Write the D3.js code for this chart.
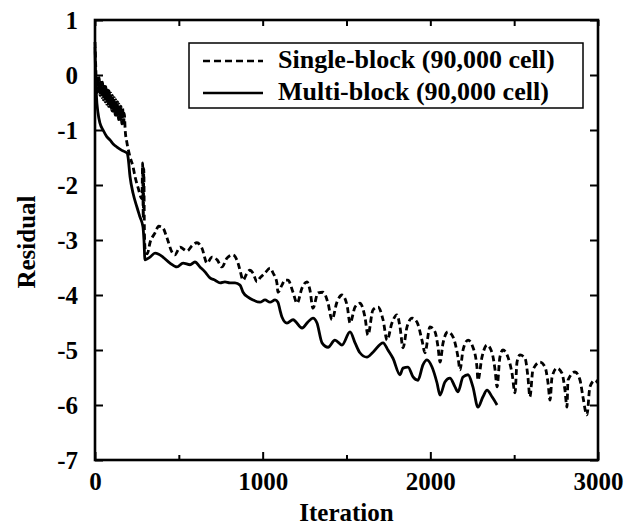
<!DOCTYPE html>
<html><head><meta charset="utf-8">
<script src="https://cdn.jsdelivr.net/npm/d3@7/dist/d3.min.js"></script>
<style>body{margin:0;background:#fff}svg{display:block}</style>
</head><body><svg id="c" width="626" height="527"></svg>
<script>
const xTicks=[0,1000,2000,3000];
const xMinorTicks=[500,1500,2500];
const yTicks=[1,0,-1,-2,-3,-4,-5,-6,-7];
const seriesNames=["Single-block (90,000 cell)","Multi-block (90,000 cell)"];
const xLabel="Iteration", yLabel="Residual";

const singleIter=[0,5,10,15,20,25,30,35,40,45,50,55,60,65,70,75,80,85,90,95,100,105,110,115,120,125,130,135,140,145,150,155,160,165,170,175,180,191,209,227,239,256,280,284,288,291,295,300,312,328,358,380,405,429,459,477,507,549,580,608,638,668,698,728,757,787,823,853,865,883,907,924,942,966,984,1014,1044,1062,1085,1091,1115,1133,1151,1181,1205,1235,1264,1282,1300,1330,1360,1390,1413,1443,1473,1503,1521,1551,1580,1610,1628,1658,1688,1718,1742,1771,1801,1819,1837,1861,1891,1920,1950,1968,1998,2028,2046,2058,2076,2105,2135,2165,2177,2195,2225,2254,2278,2284,2308,2338,2368,2386,2398,2415,2433,2463,2487,2505,2517,2535,2565,2582,2594,2612,2654,2684,2702,2714,2726,2755,2785,2803,2815,2821,2863,2893,2910,2934,2952,2982,3000];
const singleRes=[0.6,0.1,-0.29,-0.01,-0.33,-0.05,-0.37,-0.09,-0.41,-0.13,-0.45,-0.17,-0.49,-0.21,-0.53,-0.25,-0.57,-0.29,-0.61,-0.33,-0.65,-0.37,-0.69,-0.41,-0.73,-0.45,-0.77,-0.49,-0.81,-0.53,-0.85,-0.57,-0.89,-0.61,-0.93,-0.7,-1.0,-1.24,-1.49,-1.67,-1.85,-2.04,-2.25,-1.6,-2.6,-1.7,-2.9,-3.2,-3.25,-3.05,-2.87,-2.75,-2.78,-2.96,-3.22,-3.27,-3.13,-3.2,-3.1,-3.05,-3.15,-3.42,-3.31,-3.36,-3.49,-3.33,-3.27,-3.42,-3.55,-3.73,-3.6,-3.55,-3.6,-3.76,-3.69,-3.6,-3.51,-3.6,-3.78,-3.95,-3.82,-3.73,-3.73,-3.95,-4.15,-3.87,-3.76,-3.91,-4.24,-3.96,-3.95,-4.15,-4.45,-4.13,-4.0,-4.18,-4.51,-4.22,-4.15,-4.4,-4.73,-4.27,-4.22,-4.45,-4.82,-4.51,-4.36,-4.58,-4.96,-4.58,-4.42,-4.49,-4.82,-5.05,-4.58,-4.67,-4.95,-5.22,-4.87,-4.67,-4.76,-5.13,-5.36,-5.0,-4.82,-4.95,-5.31,-5.55,-5.13,-4.91,-5.05,-5.36,-5.67,-5.13,-5.0,-5.13,-5.42,-5.78,-5.22,-5.09,-5.15,-5.49,-5.85,-5.36,-5.22,-5.31,-5.6,-5.91,-5.49,-5.33,-5.42,-5.73,-6.04,-5.55,-5.4,-5.55,-5.85,-6.18,-5.67,-5.55,-5.6];

const multiIter=[0,3,8,18,30,48,70,89,110,131,160,191,197,209,227,250,268,286,292,298,312,328,358,380,405,447,489,525,567,596,626,656,686,716,746,775,805,835,865,883,913,942,984,1014,1044,1074,1091,1103,1115,1145,1181,1235,1270,1300,1324,1354,1390,1431,1473,1521,1551,1580,1622,1658,1718,1747,1777,1819,1837,1867,1897,1926,1956,1980,2010,2040,2058,2087,2117,2147,2165,2195,2225,2254,2284,2314,2338,2368,2398];
const multiRes=[0.5,0.1,-0.35,-0.69,-0.88,-1.0,-1.12,-1.18,-1.26,-1.31,-1.37,-1.42,-1.49,-1.85,-2.15,-2.4,-2.58,-2.76,-3.0,-3.36,-3.34,-3.31,-3.24,-3.26,-3.31,-3.42,-3.49,-3.42,-3.45,-3.4,-3.49,-3.58,-3.69,-3.73,-3.78,-3.76,-3.78,-3.78,-3.82,-3.95,-4.04,-4.09,-4.13,-4.09,-4.13,-4.09,-4.13,-4.27,-4.4,-4.51,-4.45,-4.6,-4.49,-4.42,-4.51,-4.87,-4.95,-4.82,-4.91,-4.67,-4.87,-5.05,-5.13,-5.04,-4.87,-5.0,-5.15,-5.45,-5.33,-5.31,-5.49,-5.55,-5.27,-5.18,-5.31,-5.6,-5.82,-5.58,-5.51,-5.67,-5.76,-5.49,-5.45,-5.67,-6.04,-5.85,-5.73,-5.85,-6.0];

const svg=d3.select("#c");
const L=95,R=598,T=20,B=460;
const x=d3.scaleLinear().domain([0,3000]).range([L,R]);
const y=d3.scaleLinear().domain([-7,1]).range([B,T]);
const font="'Liberation Serif','Times New Roman',serif";
const fmt=d=>String(d);

// data lines
const line=d3.line().x(d=>x(d[0])).y(d=>y(d[1])).curve(d3.curveMonotoneX);
const single=singleIter.map((v,i)=>[v,singleRes[i]]);
const multi=multiIter.map((v,i)=>[v,multiRes[i]]);
const plot=svg.append("g");
plot.append("path").datum(single).attr("d",line).attr("fill","none")
  .attr("stroke","#000").attr("stroke-width",2.8).attr("stroke-dasharray","6,3.5");
plot.append("path").datum(multi).attr("d",line).attr("fill","none")
  .attr("stroke","#000").attr("stroke-width",2.8);

// axes
function styleAxis(g){
  g.select(".domain").remove();
  g.selectAll("line").attr("stroke","#000").attr("stroke-width",2);
  g.selectAll("text").attr("font-family",font).attr("font-weight","bold")
    .attr("font-size",25).attr("fill","#000");
}
svg.append("g").attr("transform",`translate(0,${B})`)
  .call(d3.axisBottom(x).tickValues(xTicks).tickFormat(fmt).tickSize(-8).tickPadding(12))
  .call(styleAxis);
svg.append("g").attr("transform",`translate(0,${B})`)
  .call(d3.axisBottom(x).tickValues(xMinorTicks).tickFormat("").tickSize(-5))
  .call(styleAxis);
svg.append("g").attr("transform",`translate(0,${T})`)
  .call(d3.axisTop(x).tickValues(xTicks.concat(xMinorTicks)).tickFormat("").tickSize(-6))
  .call(styleAxis);
svg.append("g").attr("transform",`translate(${L},0)`)
  .call(d3.axisLeft(y).tickValues(yTicks).tickFormat(fmt).tickSize(-8).tickPadding(17))
  .call(styleAxis);
svg.append("g").attr("transform",`translate(${R},0)`)
  .call(d3.axisRight(y).tickValues(yTicks).tickFormat("").tickSize(-8))
  .call(styleAxis);
svg.append("rect").attr("x",L).attr("y",T).attr("width",R-L).attr("height",B-T)
  .attr("fill","none").attr("stroke","#000").attr("stroke-width",2.6);

// axis labels
svg.append("text").attr("x",(L+R)/2).attr("y",521).attr("text-anchor","middle")
  .attr("font-family",font).attr("font-weight","bold").attr("font-size",25).text(xLabel);
svg.append("text").attr("transform","translate(35,242) rotate(-90)").attr("text-anchor","middle")
  .attr("font-family",font).attr("font-weight","bold").attr("font-size",25).text(yLabel);

// legend
const lg=svg.append("g");
lg.append("rect").attr("x",189).attr("y",43).attr("width",394).attr("height",65)
  .attr("fill","#fff").attr("stroke","#000").attr("stroke-width",1.5);
const rows=[{dash:"7,4",ty:68,ly:61},{dash:null,ty:100,ly:93}];
rows.forEach((r,i)=>{
  const l=lg.append("line").attr("x1",203).attr("x2",263).attr("y1",r.ly).attr("y2",r.ly)
    .attr("stroke","#000").attr("stroke-width",2.6);
  if(r.dash) l.attr("stroke-dasharray",r.dash);
  lg.append("text").attr("x",278).attr("y",r.ty).attr("font-family",font)
    .attr("font-weight","bold").attr("font-size",26).text(seriesNames[i]);
});
</script></body></html>
